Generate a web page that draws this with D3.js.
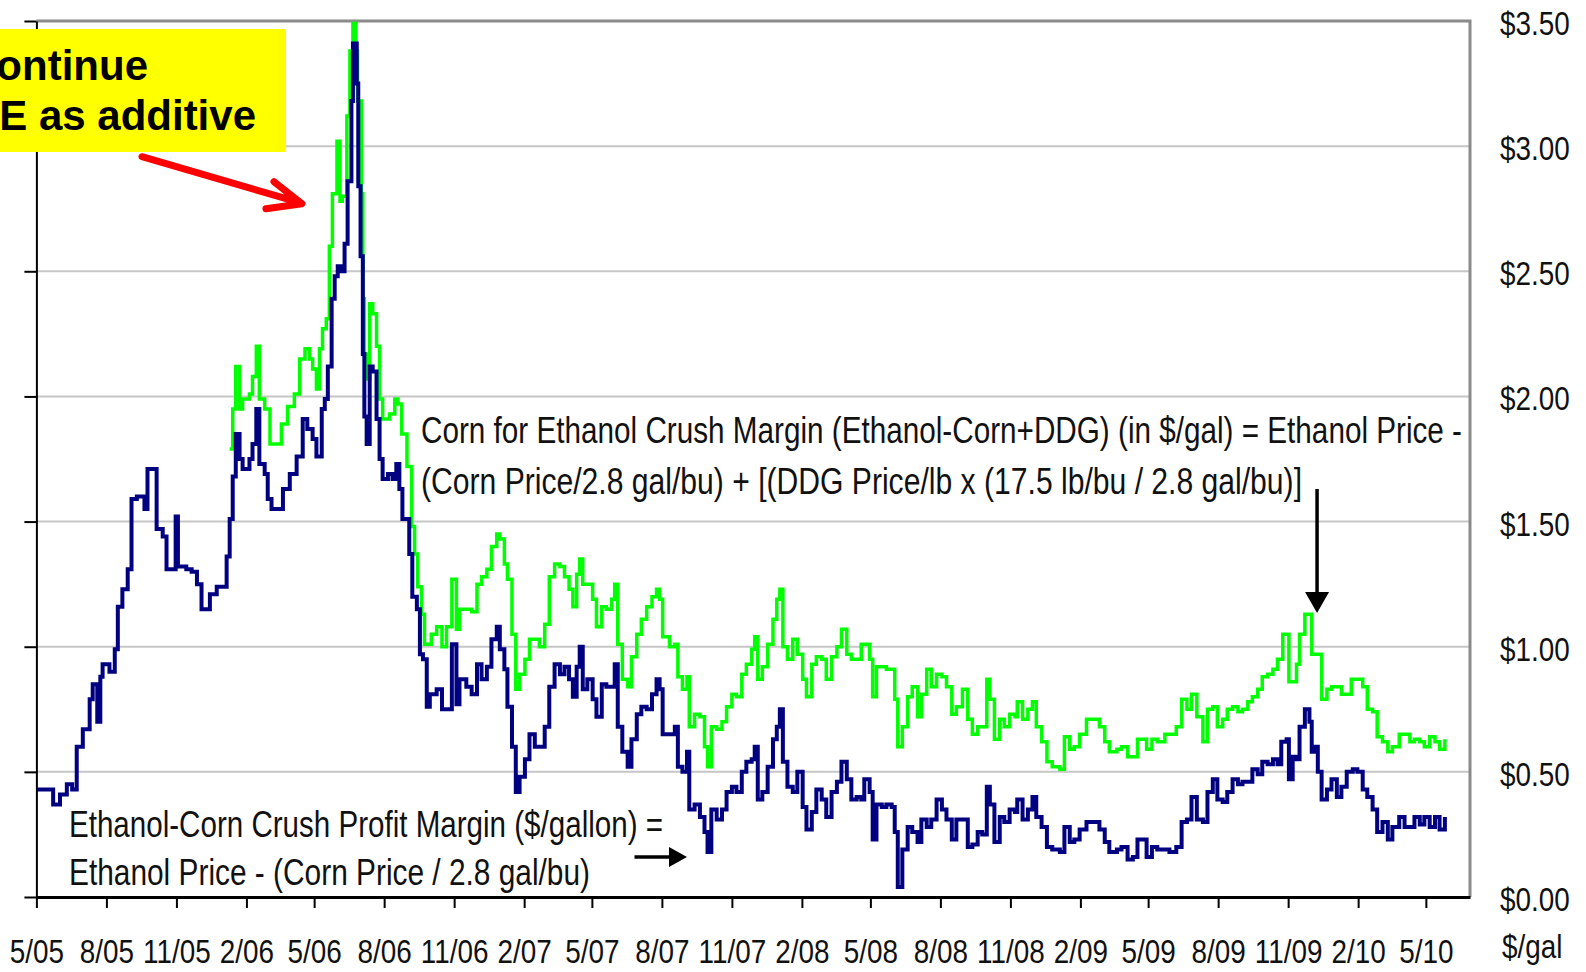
<!DOCTYPE html><meta charset="utf-8"><style>
    body { margin: 0; background: #fff; }
    svg { display: block; }
    .narrow { font-family: "Liberation Sans", Arial, sans-serif; fill: #111; }
    .grid line { stroke: #c6c6c6; stroke-width: 2; }
    .axis path, .axis line { stroke: #000; }
</style><svg width="1586" height="972"></svg><script src="https://cdn.jsdelivr.net/npm/d3@7"></script><script>

    var width = 1586, height = 972;
    var margin = ({top: 21, right: 116, bottom: 75, left: 36.4});
    var squeeze = 0.82; // Arial Narrow look from Liberation Sans

    // x tick labels (quarterly, month/year)
    var xTickLabels = ["5/05","8/05","11/05","2/06","5/06","8/06","11/06","2/07","5/07","8/07","11/07",
        "2/08","5/08","8/08","11/08","2/09","5/09","8/09","11/09","2/10","5/10"];

    var yTicks = [0, 0.5, 1, 1.5, 2, 2.5, 3, 3.5];

    var xDomain = ["2005-05-01", "2010-06-28"];

    // Ethanol-Corn crush profit margin, $/gal (navy)
    var crushMargin = [
        ["2005-05-02",0.43],["2005-05-12",0.43],["2005-05-23",0.37],["2005-06-01",0.41],["2005-06-10",0.45],["2005-06-17",0.43],
        ["2005-06-23",0.60],["2005-07-01",0.67],["2005-07-10",0.79],["2005-07-14",0.85],["2005-07-20",0.70],["2005-07-24",0.88],
        ["2005-07-27",0.93],["2005-08-05",0.90],["2005-08-12",0.99],["2005-08-16",1.16],["2005-08-22",1.23],["2005-08-29",1.31],
        ["2005-09-03",1.59],["2005-09-10",1.60],["2005-09-16",1.60],["2005-09-20",1.55],["2005-09-24",1.71],["2005-10-01",1.71],
        ["2005-10-06",1.47],["2005-10-14",1.44],["2005-10-19",1.31],["2005-10-27",1.31],["2005-10-31",1.52],["2005-11-03",1.32],
        ["2005-11-14",1.31],["2005-11-21",1.30],["2005-11-28",1.25],["2005-12-04",1.15],["2005-12-08",1.15],["2005-12-15",1.21],
        ["2005-12-24",1.24],["2006-01-01",1.24],["2006-01-06",1.36],["2006-01-10",1.51],["2006-01-14",1.68],["2006-01-18",1.85],
        ["2006-01-23",1.75],["2006-01-27",1.71],["2006-02-05",1.75],["2006-02-09",1.81],["2006-02-14",1.95],["2006-02-18",1.73],
        ["2006-02-25",1.69],["2006-03-01",1.59],["2006-03-06",1.55],["2006-03-14",1.55],["2006-03-21",1.63],["2006-03-30",1.69],
        ["2006-04-08",1.76],["2006-04-16",1.91],["2006-04-22",1.87],["2006-04-29",1.83],["2006-05-04",1.76],["2006-05-11",1.95],
        ["2006-05-15",1.99],["2006-05-19",2.12],["2006-05-24",2.39],["2006-05-28",2.48],["2006-06-01",2.52],["2006-06-06",2.50],
        ["2006-06-10",2.61],["2006-06-14",2.86],["2006-06-19",3.18],["2006-06-21",3.41],["2006-06-26",3.25],["2006-06-28",2.84],
        ["2006-07-01",2.56],["2006-07-04",2.17],["2006-07-06",1.92],["2006-07-09",1.81],["2006-07-13",2.12],["2006-07-17",2.10],
        ["2006-07-22",1.91],["2006-07-26",1.75],["2006-07-30",1.67],["2006-08-06",1.69],["2006-08-12",1.67],["2006-08-17",1.73],
        ["2006-08-21",1.63],["2006-08-25",1.51],["2006-09-03",1.37],["2006-09-07",1.20],["2006-09-13",1.15],["2006-09-17",0.97],
        ["2006-09-21",0.95],["2006-09-26",0.76],["2006-09-30",0.81],["2006-10-09",0.83],["2006-10-16",0.75],["2006-10-29",1.01],
        ["2006-11-04",0.77],["2006-11-08",0.87],["2006-11-17",0.84],["2006-11-24",0.81],["2006-12-01",0.93],["2006-12-07",0.87],
        ["2006-12-14",0.92],["2006-12-20",1.03],["2006-12-27",1.08],["2006-12-31",0.99],["2007-01-06",0.91],["2007-01-10",0.76],
        ["2007-01-16",0.60],["2007-01-21",0.42],["2007-01-26",0.48],["2007-02-02",0.55],["2007-02-08",0.65],["2007-02-15",0.60],
        ["2007-02-21",0.60],["2007-02-28",0.68],["2007-03-06",0.84],["2007-03-13",0.93],["2007-03-20",0.89],["2007-03-26",0.92],
        ["2007-04-01",0.87],["2007-04-06",0.80],["2007-04-11",0.92],["2007-04-15",1.00],["2007-04-19",0.83],["2007-04-25",0.87],
        ["2007-05-02",0.79],["2007-05-07",0.72],["2007-05-14",0.85],["2007-05-20",0.84],["2007-05-27",0.84],["2007-05-31",0.93],
        ["2007-06-04",0.68],["2007-06-10",0.58],["2007-06-17",0.52],["2007-06-22",0.63],["2007-06-29",0.73],["2007-07-05",0.76],
        ["2007-07-12",0.75],["2007-07-19",0.81],["2007-07-25",0.87],["2007-07-29",0.83],["2007-08-02",0.65],["2007-08-11",0.65],
        ["2007-08-18",0.68],["2007-08-22",0.52],["2007-08-28",0.50],["2007-09-03",0.58],["2007-09-06",0.35],["2007-09-13",0.37],
        ["2007-09-20",0.32],["2007-09-26",0.26],["2007-09-30",0.18],["2007-10-05",0.35],["2007-10-12",0.31],["2007-10-19",0.35],
        ["2007-10-25",0.42],["2007-11-01",0.44],["2007-11-07",0.42],["2007-11-14",0.50],["2007-11-20",0.54],["2007-11-27",0.55],
        ["2007-12-01",0.60],["2007-12-05",0.39],["2007-12-11",0.42],["2007-12-18",0.52],["2007-12-25",0.63],["2007-12-30",0.68],
        ["2008-01-03",0.75],["2008-01-07",0.54],["2008-01-13",0.44],["2008-01-20",0.42],["2008-01-26",0.50],["2008-02-02",0.36],
        ["2008-02-07",0.27],["2008-02-14",0.34],["2008-02-20",0.43],["2008-02-27",0.39],["2008-03-04",0.32],["2008-03-11",0.42],
        ["2008-03-18",0.46],["2008-03-24",0.54],["2008-03-31",0.47],["2008-04-06",0.39],["2008-04-13",0.40],["2008-04-19",0.39],
        ["2008-04-23",0.47],["2008-04-30",0.42],["2008-05-04",0.23],["2008-05-09",0.37],["2008-05-16",0.36],["2008-05-22",0.37],
        ["2008-05-29",0.36],["2008-06-02",0.26],["2008-06-06",0.04],["2008-06-12",0.19],["2008-06-19",0.28],["2008-06-25",0.26],
        ["2008-07-02",0.22],["2008-07-07",0.31],["2008-07-14",0.28],["2008-07-20",0.31],["2008-07-27",0.39],["2008-08-03",0.35],
        ["2008-08-09",0.31],["2008-08-16",0.23],["2008-08-22",0.31],["2008-08-30",0.31],["2008-09-06",0.20],["2008-09-12",0.21],
        ["2008-09-19",0.26],["2008-09-25",0.25],["2008-10-01",0.44],["2008-10-05",0.37],["2008-10-11",0.22],["2008-10-18",0.32],
        ["2008-10-24",0.30],["2008-10-31",0.35],["2008-11-07",0.34],["2008-11-10",0.39],["2008-11-17",0.31],["2008-11-24",0.35],
        ["2008-11-30",0.40],["2008-12-05",0.32],["2008-12-12",0.28],["2008-12-19",0.20],["2008-12-26",0.19],["2009-01-05",0.18],
        ["2009-01-11",0.28],["2009-01-18",0.22],["2009-01-24",0.23],["2009-01-31",0.27],["2009-02-09",0.30],["2009-02-17",0.30],
        ["2009-02-26",0.27],["2009-03-05",0.22],["2009-03-11",0.18],["2009-03-21",0.19],["2009-03-27",0.20],["2009-04-04",0.15],
        ["2009-04-11",0.16],["2009-04-17",0.23],["2009-04-24",0.23],["2009-04-29",0.16],["2009-05-06",0.20],["2009-05-13",0.19],
        ["2009-05-23",0.19],["2009-05-29",0.18],["2009-06-07",0.20],["2009-06-14",0.30],["2009-06-21",0.31],["2009-06-27",0.40],
        ["2009-07-04",0.31],["2009-07-12",0.30],["2009-07-18",0.42],["2009-07-25",0.47],["2009-07-31",0.39],["2009-08-07",0.38],
        ["2009-08-13",0.42],["2009-08-20",0.47],["2009-08-27",0.45],["2009-09-02",0.46],["2009-09-09",0.46],["2009-09-15",0.51],
        ["2009-09-22",0.49],["2009-09-28",0.54],["2009-10-05",0.53],["2009-10-12",0.55],["2009-10-18",0.53],["2009-10-23",0.62],
        ["2009-10-30",0.63],["2009-11-02",0.47],["2009-11-07",0.56],["2009-11-12",0.55],["2009-11-16",0.68],["2009-11-23",0.75],
        ["2009-11-29",0.70],["2009-12-02",0.58],["2009-12-06",0.60],["2009-12-10",0.50],["2009-12-15",0.39],["2009-12-22",0.43],
        ["2009-12-28",0.47],["2010-01-04",0.40],["2010-01-10",0.44],["2010-01-17",0.50],["2010-01-25",0.51],["2010-01-31",0.50],
        ["2010-02-07",0.43],["2010-02-13",0.40],["2010-02-20",0.35],["2010-02-26",0.26],["2010-03-05",0.30],["2010-03-12",0.23],
        ["2010-03-18",0.28],["2010-03-27",0.32],["2010-04-03",0.28],["2010-04-10",0.28],["2010-04-16",0.32],["2010-04-23",0.29],
        ["2010-04-29",0.32],["2010-05-06",0.28],["2010-05-13",0.32],["2010-05-19",0.27],["2010-05-26",0.32]
    ];

    // Corn for ethanol crush margin incl. DDG credit, $/gal (green)
    var crushMarginDDG = [
        ["2006-01-10",1.79],["2006-01-14",1.95],["2006-01-18",2.12],["2006-01-23",1.95],["2006-01-27",1.99],["2006-02-05",2.01],
        ["2006-02-09",2.08],["2006-02-14",2.20],["2006-02-18",1.99],["2006-02-25",1.95],["2006-03-04",1.81],["2006-03-13",1.81],
        ["2006-03-19",1.89],["2006-03-27",1.96],["2006-04-05",2.01],["2006-04-12",2.15],["2006-04-19",2.19],["2006-04-25",2.15],
        ["2006-04-29",2.11],["2006-05-04",2.03],["2006-05-08",2.19],["2006-05-12",2.27],["2006-05-17",2.31],["2006-05-21",2.60],
        ["2006-05-25",2.81],["2006-05-31",3.02],["2006-06-04",2.78],["2006-06-07",2.80],["2006-06-13",3.12],["2006-06-17",3.38],
        ["2006-06-21",3.49],["2006-06-25",3.38],["2006-06-27",3.18],["2006-07-02",2.81],["2006-07-04",2.39],["2006-07-06",2.17],
        ["2006-07-09",2.07],["2006-07-13",2.37],["2006-07-17",2.33],["2006-07-22",2.20],["2006-07-26",1.99],["2006-07-30",1.91],
        ["2006-08-08",1.93],["2006-08-15",1.99],["2006-08-19",1.97],["2006-08-24",1.85],["2006-08-31",1.72],["2006-09-06",1.48],
        ["2006-09-10",1.37],["2006-09-14",1.24],["2006-09-19",1.13],["2006-09-23",1.01],["2006-09-27",1.01],["2006-10-02",1.05],
        ["2006-10-09",1.08],["2006-10-16",1.00],["2006-10-22",1.08],["2006-10-29",1.27],["2006-11-04",1.07],["2006-11-08",1.15],
        ["2006-11-17",1.15],["2006-11-24",1.14],["2006-12-01",1.25],["2006-12-07",1.28],["2006-12-14",1.31],["2006-12-20",1.40],
        ["2006-12-27",1.45],["2006-12-31",1.43],["2007-01-06",1.33],["2007-01-10",1.27],["2007-01-16",1.05],["2007-01-21",0.83],
        ["2007-01-26",0.89],["2007-02-02",0.95],["2007-02-08",1.03],["2007-02-15",1.03],["2007-02-21",1.00],["2007-02-28",1.09],
        ["2007-03-06",1.28],["2007-03-13",1.33],["2007-03-20",1.32],["2007-03-26",1.28],["2007-04-01",1.23],["2007-04-06",1.16],
        ["2007-04-11",1.29],["2007-04-15",1.35],["2007-04-19",1.25],["2007-04-25",1.25],["2007-05-02",1.19],["2007-05-07",1.08],
        ["2007-05-14",1.16],["2007-05-20",1.15],["2007-05-27",1.19],["2007-05-31",1.25],["2007-06-04",1.01],["2007-06-10",0.87],
        ["2007-06-17",0.84],["2007-06-22",0.96],["2007-06-29",1.05],["2007-07-05",1.11],["2007-07-12",1.16],["2007-07-19",1.20],
        ["2007-07-25",1.23],["2007-07-29",1.19],["2007-08-02",1.04],["2007-08-11",1.00],["2007-08-18",1.01],["2007-08-22",0.88],
        ["2007-08-28",0.83],["2007-09-03",0.88],["2007-09-06",0.68],["2007-09-13",0.73],["2007-09-20",0.72],["2007-09-26",0.60],
        ["2007-09-30",0.52],["2007-10-05",0.68],["2007-10-12",0.67],["2007-10-19",0.70],["2007-10-25",0.76],["2007-11-01",0.81],
        ["2007-11-07",0.80],["2007-11-14",0.89],["2007-11-20",0.93],["2007-11-27",0.99],["2007-12-01",1.04],["2007-12-05",0.87],
        ["2007-12-11",0.92],["2007-12-18",1.01],["2007-12-25",1.11],["2007-12-30",1.19],["2008-01-03",1.23],["2008-01-07",1.00],
        ["2008-01-13",0.95],["2008-01-20",1.03],["2008-01-26",0.97],["2008-02-02",0.87],["2008-02-07",0.80],["2008-02-14",0.93],
        ["2008-02-20",0.96],["2008-02-27",0.95],["2008-03-04",0.87],["2008-03-11",0.96],["2008-03-18",1.00],["2008-03-24",1.07],
        ["2008-03-31",0.97],["2008-04-06",0.95],["2008-04-13",0.95],["2008-04-19",1.01],["2008-04-23",1.01],["2008-04-30",0.95],
        ["2008-05-04",0.80],["2008-05-09",0.92],["2008-05-16",0.92],["2008-05-22",0.91],["2008-05-29",0.91],["2008-06-02",0.79],
        ["2008-06-06",0.60],["2008-06-12",0.68],["2008-06-19",0.80],["2008-06-25",0.84],["2008-07-02",0.72],["2008-07-07",0.81],
        ["2008-07-14",0.91],["2008-07-20",0.84],["2008-07-27",0.89],["2008-08-03",0.88],["2008-08-09",0.84],["2008-08-16",0.73],
        ["2008-08-22",0.76],["2008-08-30",0.83],["2008-09-06",0.71],["2008-09-12",0.65],["2008-09-19",0.68],["2008-09-25",0.68],
        ["2008-10-01",0.87],["2008-10-05",0.79],["2008-10-11",0.63],["2008-10-18",0.71],["2008-10-24",0.68],["2008-10-31",0.73],
        ["2008-11-07",0.72],["2008-11-10",0.78],["2008-11-17",0.71],["2008-11-24",0.75],["2008-11-30",0.78],["2008-12-05",0.68],
        ["2008-12-12",0.62],["2008-12-19",0.54],["2008-12-26",0.52],["2009-01-05",0.51],["2009-01-11",0.64],["2009-01-18",0.59],
        ["2009-01-24",0.60],["2009-01-31",0.65],["2009-02-09",0.71],["2009-02-17",0.71],["2009-02-26",0.68],["2009-03-05",0.62],
        ["2009-03-11",0.58],["2009-03-21",0.59],["2009-03-27",0.60],["2009-04-04",0.56],["2009-04-11",0.56],["2009-04-17",0.63],
        ["2009-04-24",0.63],["2009-04-29",0.59],["2009-05-06",0.63],["2009-05-13",0.62],["2009-05-23",0.65],["2009-05-29",0.65],
        ["2009-06-07",0.68],["2009-06-14",0.79],["2009-06-21",0.75],["2009-06-27",0.81],["2009-07-04",0.72],["2009-07-12",0.62],
        ["2009-07-18",0.75],["2009-07-25",0.76],["2009-07-31",0.68],["2009-08-07",0.71],["2009-08-13",0.75],["2009-08-20",0.76],
        ["2009-08-27",0.74],["2009-09-02",0.75],["2009-09-09",0.78],["2009-09-15",0.80],["2009-09-22",0.83],["2009-09-28",0.88],
        ["2009-10-05",0.89],["2009-10-12",0.91],["2009-10-18",0.95],["2009-10-25",1.05],["2009-10-31",1.05],["2009-11-02",0.86],
        ["2009-11-07",0.86],["2009-11-12",0.93],["2009-11-16",1.05],["2009-11-23",1.13],["2009-11-29",1.13],["2009-12-02",0.97],
        ["2009-12-10",0.97],["2009-12-15",0.79],["2009-12-22",0.83],["2009-12-28",0.84],["2010-01-04",0.84],["2010-01-10",0.81],
        ["2010-01-17",0.81],["2010-01-23",0.87],["2010-01-31",0.87],["2010-02-07",0.84],["2010-02-13",0.75],["2010-02-20",0.74],
        ["2010-02-26",0.64],["2010-03-05",0.62],["2010-03-12",0.58],["2010-03-18",0.60],["2010-03-27",0.65],["2010-04-03",0.65],
        ["2010-04-10",0.62],["2010-04-16",0.63],["2010-04-23",0.62],["2010-04-29",0.60],["2010-05-06",0.64],["2010-05-13",0.62],
        ["2010-05-19",0.59],["2010-05-26",0.63]
    ];

    var parseDay = d3.timeParse("%Y-%m-%d");
    var parseTick = d3.timeParse("%m/%y");

    var x = d3.scaleTime()
        .domain(xDomain.map(parseDay))
        .range([margin.left, width - margin.right]);

    var y = d3.scaleLinear()
        .domain([0, 3.5])
        .range([height - margin.bottom, margin.top]);

    var svg = d3.select("svg")
        .attr("viewBox", [0, 0, width, height]);

    // grid
    svg.append("g")
        .attr("class", "grid")
        .selectAll("line")
        .data(yTicks.filter(d => d > 0 && d < 3.5))
        .join("line")
        .attr("x1", margin.left).attr("x2", width - margin.right)
        .attr("y1", d => y(d)).attr("y2", d => y(d));

    // top + right frame (grey)
    svg.append("path")
        .attr("d", `M${margin.left},${y(3.5)}H${width - margin.right}V${y(0)}`)
        .attr("fill", "none")
        .attr("stroke", "#8a8a8a")
        .attr("stroke-width", 3);

    var line = d3.line()
        .x(d => x(parseDay(d[0])))
        .y(d => y(d[1]))
        .curve(d3.curveStepAfter);

    svg.append("path")
        .datum(crushMarginDDG)
        .attr("fill", "none")
        .attr("stroke", "#00ff00")
        .attr("stroke-width", 3.5)
        .attr("d", line);

    svg.append("path")
        .datum(crushMargin)
        .attr("fill", "none")
        .attr("stroke", "#000080")
        .attr("stroke-width", 4)
        .attr("d", line);

    // axes
    svg.append("g")
        .attr("class", "axis")
        .attr("transform", `translate(${margin.left},0)`)
        .call(d3.axisLeft(y).tickValues(yTicks).tickSize(12).tickSizeOuter(0).tickFormat(""))
        .call(g => g.selectAll("path, line").attr("stroke-width", 2));

    svg.append("g")
        .attr("class", "axis")
        .attr("transform", `translate(0,${y(0)})`)
        .call(d3.axisBottom(x).tickValues(xTickLabels.map(parseTick)).tickSize(11).tickSizeOuter(0)
            .tickFormat(d3.timeFormat("%-m/%y")))
        .call(g => g.select(".domain").attr("stroke-width", 3))
        .call(g => g.selectAll(".tick line").attr("stroke-width", 2))
        .call(g => g.selectAll("text")
            .attr("class", "narrow")
            .attr("font-family", null)
            .attr("y", 0).attr("dy", 0)
            .attr("transform", `translate(0,66) scale(${squeeze},1)`)
            .attr("font-size", 34));

    // right-hand labels
    svg.append("g")
        .selectAll("text")
        .data(yTicks)
        .join("text")
        .attr("class", "narrow")
        .attr("transform", d => `translate(1500,${y(d) + 14}) scale(${squeeze},1)`)
        .attr("font-size", 34)
        .text(d => "$" + d.toFixed(2));

    svg.append("text")
        .attr("class", "narrow")
        .attr("transform", `translate(1502,958) scale(${squeeze},1)`)
        .attr("font-size", 34)
        .text("$/gal");

    // annotations
    var notes = [
        {t: "Corn for Ethanol Crush Margin (Ethanol-Corn+DDG) (in $/gal) = Ethanol Price -", x: 421, y: 443, w: 1041},
        {t: "(Corn Price/2.8 gal/bu) + [(DDG Price/lb x (17.5 lb/bu / 2.8 gal/bu)]", x: 421, y: 494, w: 881},
        {t: "Ethanol-Corn Crush Profit Margin ($/gallon) =", x: 69, y: 837, w: 594},
        {t: "Ethanol Price - (Corn Price / 2.8 gal/bu)", x: 69, y: 885, w: 521}
    ];
    svg.append("g")
        .selectAll("text")
        .data(notes)
        .join("text")
        .attr("class", "narrow")
        .attr("x", d => d.x).attr("y", d => d.y)
        .attr("font-size", 36)
        .attr("textLength", d => d.w)
        .attr("lengthAdjust", "spacingAndGlyphs")
        .text(d => d.t);

    // black arrows
    var downX = x(parseDay("2009-12-09")), downTop = y(1.63), downTip = y(1.135);
    svg.append("line")
        .attr("x1", downX).attr("x2", downX)
        .attr("y1", downTop).attr("y2", downTip - 16)
        .attr("stroke", "#000").attr("stroke-width", 3.5);
    svg.append("path")
        .attr("d", `M${downX - 12},${downTip - 21}L${downX + 12},${downTip - 21}L${downX},${downTip}Z`)
        .attr("fill", "#000");

    var rightY = y(0.16), rightX0 = x(parseDay("2007-06-26")), rightTip = x(parseDay("2007-09-03"));
    svg.append("line")
        .attr("x1", rightX0).attr("x2", rightTip - 14)
        .attr("y1", rightY).attr("y2", rightY)
        .attr("stroke", "#000").attr("stroke-width", 3.5);
    svg.append("path")
        .attr("d", `M${rightTip - 18},${rightY - 10}L${rightTip - 18},${rightY + 10}L${rightTip},${rightY}Z`)
        .attr("fill", "#000");

    // yellow callout (cut off at the left edge) and red arrow
    svg.append("rect")
        .attr("x", -10).attr("y", 29)
        .attr("width", 296).attr("height", 123)
        .attr("fill", "#ffff00");

    svg.append("g")
        .attr("font-family", "'Liberation Sans', Arial, sans-serif")
        .attr("font-weight", "bold")
        .attr("font-size", 42)
        .attr("text-anchor", "end")
        .selectAll("text")
        .data([["ontinue", 148, 80], ["E as additive", 256, 130]])
        .join("text")
        .attr("x", d => d[1]).attr("y", d => d[2])
        .attr("fill", "#000")
        .text(d => d[0]);

    var tipX = x(parseDay("2006-04-15")), tipY = y(2.77);
    svg.append("path")
        .attr("d", `M${tipX - 160},${tipY - 47}L${tipX - 2},${tipY - 1}M${tipX - 28},${tipY - 22}L${tipX},${tipY}L${tipX - 36},${tipY + 5}`)
        .attr("fill", "none")
        .attr("stroke", "#ff0000")
        .attr("stroke-width", 7)
        .attr("stroke-linecap", "round")
        .attr("stroke-linejoin", "round");

</script>
